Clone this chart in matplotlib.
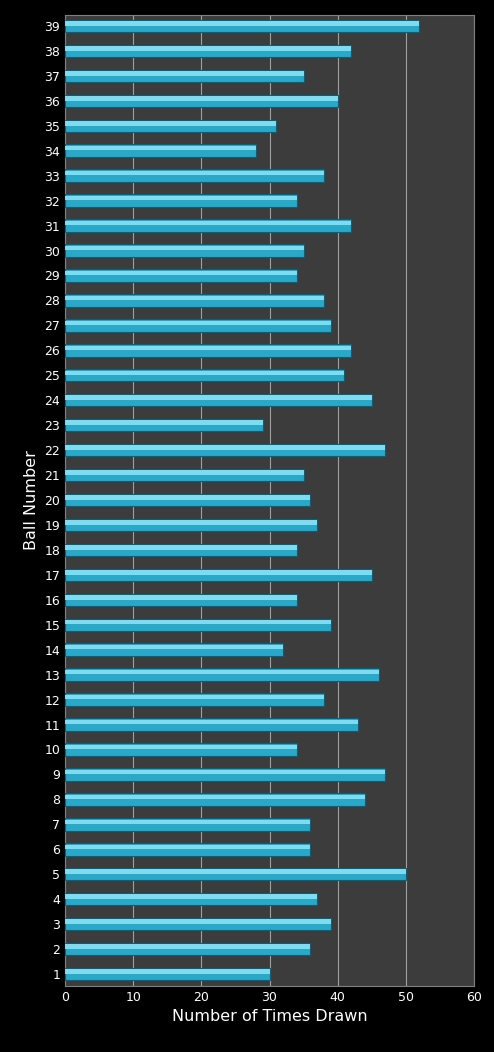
import numpy as np
import matplotlib
matplotlib.use("Agg")
import matplotlib.pyplot as plt

balls = list(range(1, 40))
counts = [30, 36, 39, 37, 50, 36, 36, 44, 47, 34,
          43, 38, 46, 32, 39, 34, 45, 34, 37, 36,
          35, 47, 29, 45, 41, 42, 39, 38, 34, 35,
          42, 34, 38, 28, 31, 40, 35, 42, 52]

fig = plt.figure(figsize=(4.94, 10.52), dpi=100, facecolor="black")
ax = fig.add_axes([65/494, 1-986/1052, (474-65)/494, (986-15)/1052])
ax.set_facecolor("#3c3c3c")

y = np.arange(len(balls))
# main bar plus a lighter top highlight for a 3D-ish look
ax.barh(y, counts, height=0.5, color="#2aa8c8", edgecolor="#0d5f75", linewidth=0.8, zorder=3)
ax.barh(y + 0.1, counts, height=0.18, color="#7fdcf0", linewidth=0, zorder=4)

ax.set_xlim(0, 60)
ax.set_ylim(-0.48, len(balls) - 0.56)
ax.set_xticks(range(0, 61, 10))
ax.set_yticks(y)
ax.set_yticklabels([str(b) for b in balls])
ax.grid(axis="x", color="#a0a0a0", linewidth=0.8, zorder=0)
ax.tick_params(colors="white", labelsize=9, length=0)
for s in ax.spines.values():
    s.set_color("#808080")
ax.set_xlabel("Number of Times Drawn", color="white", fontsize=11.5)
ax.set_ylabel("Ball Number", color="white", fontsize=11.5)

fig.savefig("out.png", dpi=100, facecolor="black")
